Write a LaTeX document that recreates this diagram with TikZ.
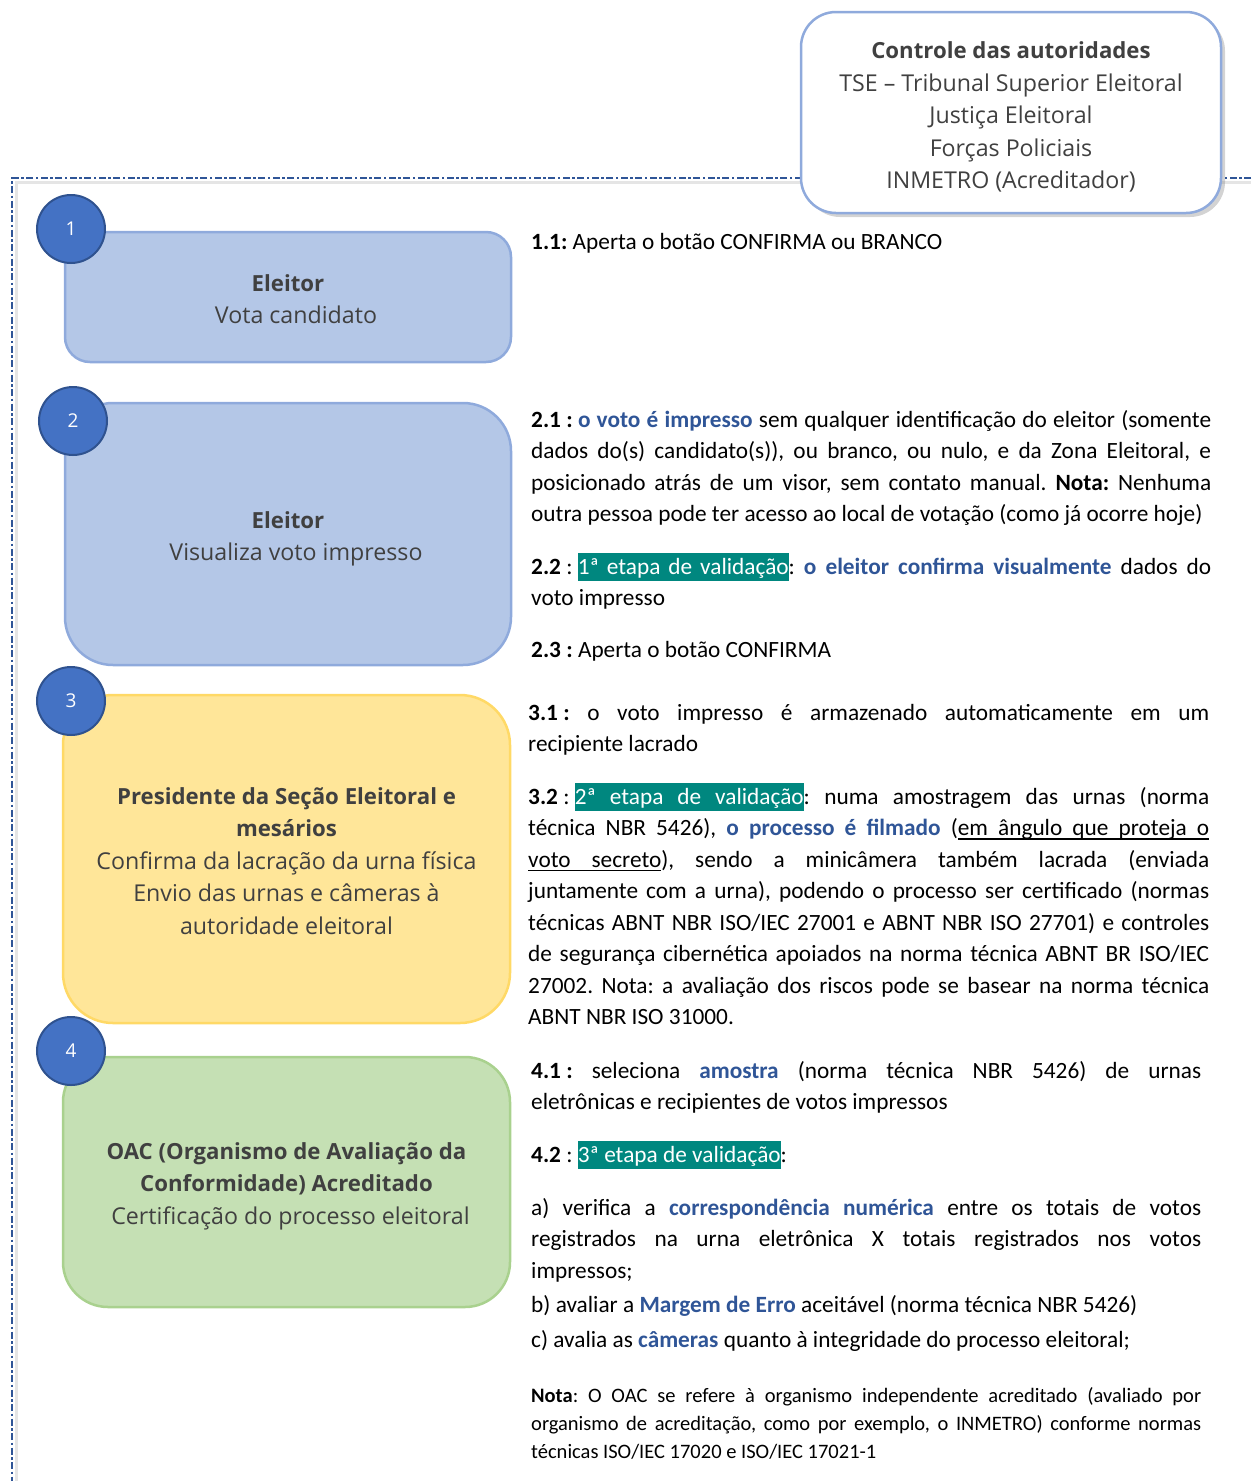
\documentclass[tikz,border=0pt]{standalone}
\usepackage{fontspec}
\setmainfont{Carlito}
\newfontfamily\boxfont{Open Sans}
\usetikzlibrary{shadows}
\definecolor{dashblue}{HTML}{2F5597}
\definecolor{boxblue}{HTML}{B4C7E7}
\definecolor{boxblueline}{HTML}{8FAADC}
\definecolor{boxyellow}{HTML}{FFE699}
\definecolor{boxyellowline}{HTML}{FFD966}
\definecolor{boxgreen}{HTML}{C5E0B4}
\definecolor{boxgreenline}{HTML}{A9D18E}
\definecolor{circfill}{HTML}{4472C4}
\definecolor{circline}{HTML}{2F528F}
\definecolor{boxtext}{HTML}{404040}
\definecolor{keyblue}{HTML}{2F5597}
\definecolor{hlteal}{HTML}{00877F}
\frenchspacing
\newcommand\hlt[2][0pt]{{\setlength\fboxsep{0pt}\colorbox{hlteal}{\hbox spread #1{\rule[-0.3em]{0pt}{1.22em}\color{white}#2}}}}
\newcommand\kb[1]{\textcolor{keyblue}{\textbf{#1}}}
\newcommand\bt[1]{{\fontsize{22.2}{32.5}\selectfont\textbf{#1}}}
\newcommand\lbl[2]{\mbox{\textbf{#1}#2}}
\newcommand\ulw[1]{\setbox0\hbox{#1}\rlap{\rule[-4pt]{\wd0}{1.3pt}}\box0}
\newcommand\uls{\leaders\hrule height -2.7pt depth 4pt\hskip\fontdimen2\font plus\fontdimen3\font minus\fontdimen4\font\relax}
\tikzset{
  stagebox/.style={rounded corners=#1, line width=2.5pt, inner sep=0pt},
  stagetext/.style={inner sep=0pt, align=center, text=boxtext,
     font=\boxfont\fontsize{23.2}{32.5}\selectfont},
  numcirc/.style={circle, fill=circfill, draw=circline, line width=2pt, minimum size=68pt,
     inner sep=0pt, text=white, font=\boxfont\fontsize{19}{22}\selectfont},
  rtext/.style={anchor=base west, inner sep=0pt, text width=#1, align=justify,
     font=\fontsize{23.3}{31.5}\selectfont},
  dashframe/.style={draw=dashblue, line width=2.8pt, dash pattern=on 7pt off 2.5pt on 2.5pt off 2.5pt}
}
\begin{document}
\begin{tikzpicture}[x=1pt,y=-1pt]
\useasboundingbox (0,0) rectangle (1251,1481);
% frame
\draw[draw=gray!20, line width=3pt] (1251,182) -- (16,182) -- (16,1481);
\draw[dashframe] (1251,178) -- (12,178) -- (12,1481);
% top box
\node[stagebox=35pt, draw=boxblueline, fill=white, minimum width=420pt, minimum height=201pt,
  drop shadow={shadow xshift=4pt, shadow yshift=-4pt, opacity=0.35, fill=gray}] (ctrl) at (1011,112.5) {};
\node[stagetext] (ctrlt) at ([yshift=-4.5pt]ctrl.center)
  {\bt{Controle das autoridades}\\TSE – Tribunal Superior Eleitoral\\Justiça Eleitoral\\Forças Policiais\\INMETRO (Acreditador)};
% stage boxes
\node[stagebox=25pt, draw=boxblueline, fill=boxblue, minimum width=446pt, minimum height=130pt] (b1) at (288,297) {};
\node[stagetext] (b1t) at ([yshift=-2pt]b1.center) {\bt{Eleitor}\\\hspace*{16pt}Vota candidato};
\node[stagebox=48pt, draw=boxblueline, fill=boxblue, minimum width=446pt, minimum height=262pt] (b2) at (288,534) {};
\node[stagetext] (b2t) at ([yshift=-5pt]b2.center) {\bt{Eleitor}\\\hspace*{16pt}Visualiza voto impresso};
\node[stagebox=50pt, draw=boxyellowline, fill=boxyellow, minimum width=447pt, minimum height=328pt] (b3) at (286.5,859) {};
\node[stagetext] (b3t) at ([yshift=-2pt]b3.center)
  {\bt{Presidente da Seção Eleitoral e}\\\bt{mesários}\\Confirma da lacração da urna física\\Envio das urnas e câmeras à\\autoridade eleitoral};
\node[stagebox=45pt, draw=boxgreenline, fill=boxgreen, minimum width=447pt, minimum height=250pt] (b4) at (286.5,1182) {};
\node[stagetext] (b4t) at ([yshift=-4pt]b4.center)
  {\bt{OAC (Organismo de Avaliação da}\\\bt{Conformidade) Acreditado}\\\hspace*{8pt}Certificação do processo eleitoral};
% number circles
\node[numcirc] (n1) at (71,229) {1};
\node[numcirc] (n2) at (73,421) {2};
\node[numcirc] (n3) at (71,701) {3};
\node[numcirc] (n4) at (71,1051) {4};
% right texts
\node[rtext=680pt] (t11) at (531,249) {\textbf{1.1:} Aperta o botão CONFIRMA ou BRANCO};
\node[rtext=680pt] (t21) at (531,427) {\lbl{2.1 :}{ }\kb{o voto é impresso} sem qualquer identificação do eleitor (somente\linebreak dados do(s) candidato(s)), ou branco, ou nulo, e da Zona Eleitoral, e\linebreak posicionado atrás de um visor, sem contato manual. \textbf{Nota:} Nenhuma\linebreak outra pessoa pode ter acesso ao local de votação (como já ocorre hoje)};
\node[rtext=680pt] (t22) at (531,574) {\lbl{2.2}{ : }\hlt[8pt]{1ª etapa de validação}: \kb{o eleitor confirma visualmente} dados do\linebreak voto impresso};
\node[rtext=680pt] (t23) at (531,657) {\textbf{2.3 :} Aperta o botão CONFIRMA};
\node[rtext=681pt] (t31) at (528,720) {\lbl{3.1 :}{} o voto impresso é armazenado automaticamente em um\linebreak recipiente lacrado};
\node[rtext=681pt] (t32) at (528,804) {\lbl{3.2}{ : }\hlt[26pt]{2ª etapa de validação}: numa amostragem das urnas (norma\linebreak técnica NBR 5426), \kb{o processo é filmado} (\ulw{em}\uls\ulw{ângulo}\uls\ulw{que}\uls\ulw{proteja}\uls\ulw{o}\linebreak \ulw{voto}\uls\ulw{secreto}), sendo a minicâmera também lacrada (enviada\linebreak juntamente com a urna), podendo o processo ser certificado (normas\linebreak técnicas ABNT NBR ISO/IEC 27001 e ABNT NBR ISO 27701) e controles\linebreak de segurança cibernética apoiados na norma técnica ABNT BR ISO/IEC\linebreak 27002. Nota: a avaliação dos riscos pode se basear na norma técnica\linebreak ABNT NBR ISO 31000.};
\node[rtext=670pt] (t41) at (531,1078) {\lbl{4.1 :}{} seleciona \kb{amostra} (norma técnica NBR 5426) de urnas\linebreak eletrônicas e recipientes de votos impressos};
\node[rtext=670pt] (t42) at (531,1162) {\lbl{4.2}{ : }\hlt{3ª etapa de validação}:};
\node[rtext=670pt] (t4a) at (531,1215) {a) verifica a \kb{correspondência numérica} entre os totais de votos\linebreak registrados na urna eletrônica X totais registrados nos votos\linebreak impressos;};
\node[rtext=670pt] (t4b) at (531,1312) {b) avaliar a \kb{Margem de Erro} aceitável (norma técnica NBR 5426)};
\node[rtext=670pt] (t4c) at (531,1347) {c) avalia as \kb{câmeras} quanto à integridade do processo eleitoral;};
\node[rtext=670pt, font=\fontsize{20.5}{28}\selectfont] (tnota) at (531,1402) {\textbf{Nota}: O OAC se refere à organismo independente acreditado (avaliado por\linebreak organismo de acreditação, como por exemplo, o INMETRO) conforme normas\linebreak técnicas ISO/IEC 17020 e ISO/IEC 17021-1};
\end{tikzpicture}
\end{document}
